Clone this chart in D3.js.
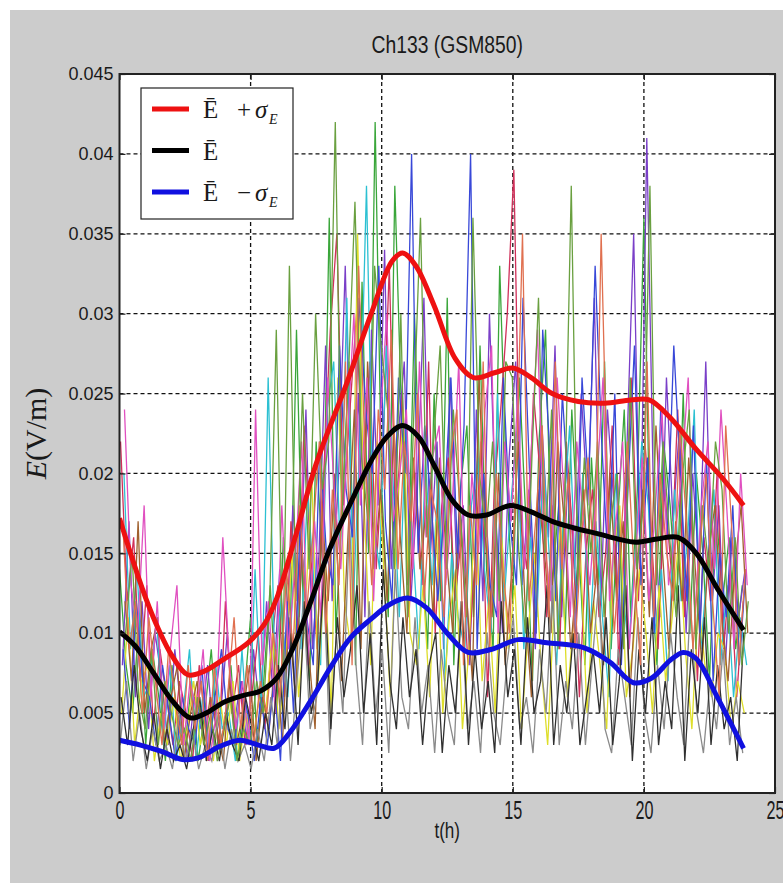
<!DOCTYPE html>
<html>
<head>
<meta charset="utf-8">
<script src="https://cdn.jsdelivr.net/npm/d3@7"></script>
<style>
body { margin: 0; background: #fff; }
svg { display: block; }
</style>
</head>
<body>
<script>
'use strict';

// samples every 0.25 h, each trace starts at its own offset (h)
let traceStep = 0.25;
let traceStart = [0.00, 0.11, 0.04, 0.17, 0.08, 0.21, 0.14, 0.02, 0.19, 0.06, 0.23, 0.12];
let traceColors = ['#3aa63a', '#7a3fc8', '#d0305a', '#2cc0d2', '#dede2a', '#a0602e',
	'#3848d8', '#8a8a8a', '#e050c0', '#303030', '#6aa040', '#e07050'];

// trace values in mV/m, one row per 6 hours
let trace1 = [14,8,5,11,3,9,6,2,8,4,3,7,2,5,9,3,4,8,2,6,11,3,7,13,
	5,16,9,29,12,7,22,14,36,10,18,27,8,32,15,42,19,11,38,24,13,30,17,9,
	25,12,31,8,19,23,11,28,14,9,33,20,12,26,17,7,22,29,13,18,10,24,16,8,
	21,13,27,9,17,24,11,19,36,14,8,22,18,12,25,10,20,15,7,18,12,16,9,13];
let trace2 = [8,17,6,12,4,10,7,3,9,5,2,6,4,8,3,5,10,4,7,3,9,5,12,6,
	14,7,18,11,24,9,15,28,12,20,33,16,25,11,29,18,34,14,22,27,12,19,31,15,
	22,9,26,14,18,8,24,12,30,17,10,21,27,13,19,9,23,16,28,11,20,14,25,18,
	31,12,24,18,9,22,35,14,41,19,11,26,17,23,10,20,14,27,12,18,8,16,11,14];
let trace3 = [22,12,16,7,13,4,9,6,3,7,5,2,8,4,6,3,12,5,8,3,6,10,4,9,
	13,6,17,10,23,15,9,20,29,35,18,24,30,19,27,14,21,33,16,25,11,20,13,27,
	10,18,21,12,16,8,14,22,6,19,24,30,39,17,14,25,20,11,18,9,22,16,6,15,
	19,11,15,23,8,17,26,12,22,16,9,19,14,24,11,18,7,16,12,20,9,14,6,12];
let trace4 = [20,9,14,6,7,11,3,8,2,5,9,2,6,3,8,4,5,2,9,3,14,5,26,8,
	12,6,15,9,19,13,8,24,27,15,31,12,22,38,17,14,28,20,11,23,16,9,21,13,
	20,7,15,11,9,18,21,14,10,25,12,18,23,9,16,11,21,14,8,17,23,12,20,9,
	17,11,6,20,13,9,15,22,18,10,14,7,19,12,16,24,9,14,19,8,13,6,11,8];
let trace5 = [5,11,3,7,8,2,5,3,6,2,4,7,3,5,2,6,3,7,2,5,3,6,5,10,
	4,8,15,6,11,20,7,14,5,26,12,9,35,18,8,22,14,6,17,24,10,8,13,6,
	17,5,11,14,4,9,19,7,12,5,16,9,13,4,10,15,8,3,12,17,6,11,15,5,
	12,8,4,15,18,6,9,14,10,5,13,7,11,16,9,4,12,8,6,10,9,4,7,5];
let trace6 = [12,7,17,5,9,11,3,6,8,2,5,7,3,6,4,2,7,3,5,8,2,6,4,9,
	3,11,6,15,9,4,18,12,20,7,16,24,9,27,14,19,12,23,16,10,21,14,18,11,
	21,15,10,18,13,7,26,16,11,20,8,14,22,12,6,19,15,10,22,17,9,14,19,10,
	14,8,20,12,17,6,13,19,11,23,15,9,17,12,21,14,8,15,18,11,7,14,18,10];
let trace7 = [9,4,12,7,6,3,8,5,2,6,4,3,8,2,6,9,4,3,7,5,2,6,3,7,
	2,12,5,17,11,8,22,15,13,28,19,16,31,24,20,33,17,12,26,20,40,15,23,18,
	12,18,26,15,23,40,9,20,13,11,26,17,13,31,20,10,29,22,12,25,18,9,26,19,
	33,22,14,25,8,19,28,13,21,10,24,16,28,20,12,23,10,21,7,15,11,18,8,14];
let trace8 = [3,7,2,5,1.5,4,2,3,1.5,5,2,4,1.5,3,2,5,1.5,4,2,3,1.5,4,2,6,
	3,9,2,7,12,4,6,14,3,10,5,17,8,3,12,5,9,2.5,14,6,4,11,5,8,
	2.5,9,5,3,12,4,7,2.5,10,5,3,8,11,4,6,2.5,9,5,13,3,7,4,10,3,
	8,13,4,2.5,9,6,3,11,5,2.5,8,4,10,6,3,12,5,2.5,7,4,9,3,6,2.5];
let trace9 = [24,13,10,18,6,12,4,9,13,3,7,5,9,2,5,16,8,4,7,3,24,8,12,5,
	18,9,14,22,8,17,11,26,19,14,22,30,18,26,12,23,30,17,20,24,14,27,16,21,
	23,13,18,27,11,20,15,24,28,10,22,17,25,14,21,29,16,12,26,19,11,22,17,13,
	19,26,12,17,22,9,15,21,12,18,24,13,16,20,26,11,18,22,14,24,17,9,20,13];
let trace10 = [6,3,8,4,2,5,1.5,4,2,3,1.5,4,6,2,4,2,5,3,2,6,4,2,5,3,
	8,4,10,3,12,5,7,14,4,11,6,9,13,5,10,3,14,7,4,11,6,9,3,8,
	10,2.5,8,5,12,3,9,4,7,2.5,12,6,9,3,11,5,7,13,3,8,5,10,3,6,
	9,5,11,3,7,13,2,9,5,11,3,7,4,13,2,9,5,11,3,8,4,6,2,10];
let trace11 = [10,15,6,4,9,3,7,5,3,4,2,6,3,5,2,4,6,2,4,3,7,5,12,29,
	8,33,12,25,14,30,19,22,42,17,26,37,21,17,33,28,24,14,30,11,24,36,16,22,
	28,14,24,18,11,36,20,16,22,12,27,26,15,10,21,31,15,24,9,18,38,13,21,15,
	22,11,17,20,9,26,14,18,38,13,22,16,11,20,24,9,18,14,22,19,10,16,8,12];
let trace12 = [17,9,12,5,11,7,3,9,6,3,8,4,7,2,8,3,6,11,4,8,3,7,5,10,
	6,14,9,18,11,16,22,10,19,13,27,8,33,21,13,24,19,29,14,22,17,25,12,19,
	17,11,21,24,8,18,13,27,9,20,14,10,19,35,12,17,23,11,27,14,20,9,16,21,
	13,35,18,10,16,22,14,8,27,11,20,15,12,23,17,9,15,20,12,6,23,16,8,14];
let traces = [trace1, trace2, trace3, trace4, trace5, trace6, trace7, trace8, trace9, trace10, trace11, trace12];

// smooth statistics curves (hour, mV/m)
let upperHours = [0,0.5,1,1.5,2,2.6,3.2,4,4.9,5.5,6,6.7,7.5,8.7,9.6,10.4,10.8,11.3,12,12.8,13.5,14.3,15,15.7,16.5,17.5,18.5,19.5,20.2,21,22,23,23.8];
let upperVals = [17.2,14.6,12.2,10.2,8.6,7.4,7.6,8.4,9.4,10.5,12.2,16,20.6,25.8,30,33.3,33.8,33,30.5,27.2,26,26.3,26.6,26,25,24.5,24.4,24.6,24.6,23.5,21.5,19.7,18];
let meanHours = [0,0.6,1.3,2,2.7,3.3,4,4.7,5.4,6,6.6,7.3,8,8.8,9.6,10.2,10.8,11.4,12,12.7,13.3,14,14.9,15.7,16.5,17.3,18.3,19,19.7,20.5,21.3,22,22.8,23.8];
let meanVals = [10.1,9.2,7.5,5.8,4.7,5,5.7,6.1,6.4,7.2,9,12,15.2,18.1,20.8,22.3,23,22.3,20.5,18.3,17.4,17.4,18,17.6,17,16.6,16.2,15.9,15.7,15.9,16,15,12.8,10.2];
let lowerHours = [0,0.8,1.6,2.4,3,3.8,4.6,5.3,5.9,6.5,7.3,8.1,8.8,9.6,10.3,11,11.7,12.5,13.3,14.2,15.2,16.3,17.7,18.7,19.6,20.3,21,21.5,22,22.8,23.8];
let lowerVals = [3.3,3,2.6,2.1,2.2,2.9,3.3,3,2.8,3.8,5.8,8,9.7,10.9,11.8,12.2,11.6,10,8.8,9,9.6,9.4,9.1,8.2,6.9,7.2,8.3,8.8,8.4,6,2.8];

let xTicks = [0, 5, 10, 15, 20, 25];
let yTicks = [0, 0.005, 0.01, 0.015, 0.02, 0.025, 0.03, 0.035, 0.04, 0.045];
let yTickLabels = ['0', '0.005', '0.01', '0.015', '0.02', '0.025', '0.03', '0.035', '0.04', '0.045'];

let width = 783, height = 883;
let margin = {left: 119.5, right: 8, top: 74, bottom: 90};

let svg = d3.select('body').append('svg').attr('width', width).attr('height', height);

svg.append('rect').attr('x', 10).attr('y', 10).attr('width', width - 10).attr('height', height - 10).attr('fill', '#cccccc');

let x = d3.scaleLinear().domain([0, 25]).range([margin.left, width - margin.right]);
let y = d3.scaleLinear().domain([0, 0.045]).range([height - margin.bottom, margin.top]);

svg.append('rect')
	.attr('x', x(0)).attr('y', y(0.045))
	.attr('width', x(25) - x(0)).attr('height', y(0) - y(0.045))
	.attr('fill', '#fff');

svg.append('clipPath').attr('id', 'plot')
	.append('rect')
	.attr('x', x(0)).attr('y', y(0.045))
	.attr('width', x(25) - x(0)).attr('height', y(0) - y(0.045));

// grid
let grid = svg.append('g').attr('stroke', '#111').attr('stroke-width', 1.3).attr('stroke-dasharray', '4,3');
grid.selectAll('.gx').data(xTicks.slice(1, -1)).enter().append('line')
	.attr('x1', function(d){ return x(d); }).attr('x2', function(d){ return x(d); })
	.attr('y1', y(0)).attr('y2', y(0.045));
grid.selectAll('.gy').data(yTicks.slice(1, -1)).enter().append('line')
	.attr('y1', function(d){ return y(d); }).attr('y2', function(d){ return y(d); })
	.attr('x1', x(0)).attr('x2', x(25));

let plot = svg.append('g').attr('clip-path', 'url(#plot)');

let traceLine = d3.line()
	.x(function(d){ return x(d.t); })
	.y(function(d){ return y(d.v); });

traces.forEach(function(vals, k){
	let pts = vals.map(function(v, i){ return {t: traceStart[k] + i * traceStep, v: v / 1000}; });
	plot.append('path')
		.attr('d', traceLine(pts))
		.attr('fill', 'none')
		.attr('stroke', traceColors[k])
		.attr('stroke-width', 1.3);
});

let smoothLine = d3.line()
	.curve(d3.curveCatmullRom.alpha(0.5))
	.x(function(d){ return x(d.t); })
	.y(function(d){ return y(d.v); });

function pairs(hours, vals){
	return hours.map(function(h, i){ return {t: h, v: vals[i] / 1000}; });
}

let stats = [
	{hours: upperHours, vals: upperVals, color: '#ee1111'},
	{hours: meanHours, vals: meanVals, color: '#000000'},
	{hours: lowerHours, vals: lowerVals, color: '#1010e0'}
];
stats.forEach(function(s){
	plot.append('path')
		.attr('d', smoothLine(pairs(s.hours, s.vals)))
		.attr('fill', 'none')
		.attr('stroke', s.color)
		.attr('stroke-width', 5)
		.attr('stroke-linejoin', 'round');
});

// axes with inward ticks on all sides
let tickFont = '"Liberation Sans", Arial, sans-serif';
let xAxis = d3.axisBottom(x).tickValues(xTicks).tickSizeInner(-6).tickSizeOuter(0);
let gx = svg.append('g').attr('transform', 'translate(0,' + y(0) + ')').call(xAxis);
gx.selectAll('text').attr('font-size', 19).attr('font-family', tickFont).attr('fill', '#1a1a1a')
	.attr('y', 6).attr('transform', 'scale(0.85,1.35)');

let yAxis = d3.axisLeft(y).tickValues(yTicks).tickFormat(function(d, i){ return yTickLabels[i]; })
	.tickSizeInner(-6).tickSizeOuter(0).tickPadding(6);
let gy = svg.append('g').attr('transform', 'translate(' + x(0) + ',0)').call(yAxis);
gy.selectAll('text').attr('font-size', 18).attr('font-family', tickFont).attr('fill', '#1a1a1a');

svg.append('g').attr('transform', 'translate(0,' + y(0.045) + ')')
	.call(d3.axisTop(x).tickValues(xTicks).tickSizeInner(-6).tickSizeOuter(0).tickFormat(''));
svg.append('g').attr('transform', 'translate(' + x(25) + ',0)')
	.call(d3.axisRight(y).tickValues(yTicks).tickSizeInner(-6).tickSizeOuter(0).tickFormat(''));

svg.selectAll('.domain').remove();
svg.selectAll('.tick line').attr('stroke', '#222').attr('stroke-width', 1.2);

svg.append('rect')
	.attr('x', x(0)).attr('y', y(0.045))
	.attr('width', x(25) - x(0)).attr('height', y(0) - y(0.045))
	.attr('fill', 'none').attr('stroke', '#222').attr('stroke-width', 2);

// titles
let cx = (x(0) + x(25)) / 2;
svg.append('text').attr('transform', 'translate(' + cx + ',53) scale(0.92,1.15)').attr('text-anchor', 'middle')
	.attr('font-family', tickFont).attr('font-size', 21).attr('fill', '#1a1a1a').text('Ch133 (GSM850)');
svg.append('text').attr('transform', 'translate(' + cx + ',838) scale(0.9,1.2)').attr('text-anchor', 'middle')
	.attr('font-family', tickFont).attr('font-size', 19).attr('fill', '#1a1a1a').text('t(h)');

let yLabel = svg.append('text').attr('transform', 'translate(46,' + ((y(0) + y(0.045)) / 2) + ') rotate(-90)')
	.attr('text-anchor', 'middle').attr('font-family', '"Liberation Serif", "DejaVu Serif", serif')
	.attr('font-size', 30).attr('fill', '#1a1a1a');
yLabel.append('tspan').attr('font-style', 'italic').text('E');
yLabel.append('tspan').text('(V/m)');

// legend
let legendOps = ['+', '', '−'];
let legendColors = ['#ee1111', '#000000', '#1010e0'];
let serif = '"Liberation Serif", "DejaVu Serif", serif';
let legend = svg.append('g').attr('transform', 'translate(141,88)');
legend.append('rect').attr('width', 152).attr('height', 131).attr('fill', '#fff').attr('stroke', '#222').attr('stroke-width', 1.2);
legendOps.forEach(function(op, i){
	let yy = 21 + i * 41.5;
	legend.append('line').attr('x1', 11).attr('x2', 48).attr('y1', yy).attr('y2', yy)
		.attr('stroke', legendColors[i]).attr('stroke-width', 5);
	let t = legend.append('g').attr('font-family', serif).attr('font-size', 25).attr('fill', '#1a1a1a');
	t.append('text').attr('x', 62).attr('y', yy + 9).text('Ē');
	if (op) {
		t.append('text').attr('x', 96).attr('y', yy + 9).text(op);
		t.append('text').attr('x', 114).attr('y', yy + 9).attr('font-style', 'italic').text('σ');
		t.append('text').attr('x', 128).attr('y', yy + 15).attr('font-size', 14).attr('font-style', 'italic').text('E');
	}
});
</script>
</body>
</html>
